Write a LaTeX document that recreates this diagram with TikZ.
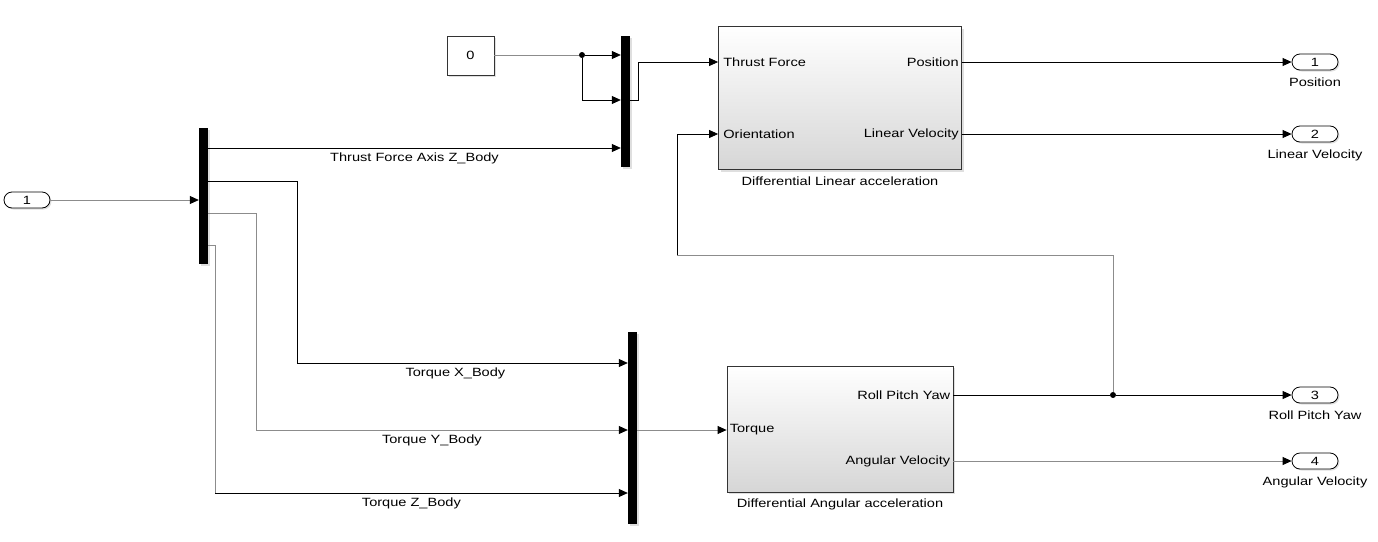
\documentclass[tikz,border=0pt]{standalone}
\usepackage{fontspec}
\setmainfont{Liberation Sans}[FakeStretch=1.22]
\usepackage{tikz}
\usetikzlibrary{arrows.meta,shapes,shadows}

\tikzset{
  sig/.style={line width=0.8bp,draw=black},
  gsig/.style={line width=0.8bp,draw=black!45},
  bar/.style={draw=none,fill=black,minimum width=9bp,inner sep=0pt,
    drop shadow={shadow xshift=1.5bp,shadow yshift=-1.5bp,opacity=0.25}},
  subsys/.style={draw=black!80,line width=0.8bp,top color=white,middle color=black!3,
    bottom color=black!16,inner sep=0pt,
    drop shadow={shadow xshift=2bp,shadow yshift=-2bp,opacity=0.25}},
  constbox/.style={draw=black!80,line width=0.8bp,fill=white,minimum width=47bp,
    minimum height=39bp,drop shadow={shadow xshift=2bp,shadow yshift=-2bp,opacity=0.25}},
  port/.style={draw=black,line width=0.8bp,fill=white,rounded corners=8bp,
    minimum width=46bp,minimum height=16bp,inner sep=0pt,
    drop shadow={shadow xshift=1.5bp,shadow yshift=-1.5bp,opacity=0.25}},
  plabel/.style={inner sep=3bp},
  dot/.style={circle,fill=black,inner sep=0pt,minimum size=6bp},
  >={Triangle[length=9bp,width=8bp,color=black,fill=black]},
  every node/.style={font=\fontsize{12}{14}\selectfont}
}

\begin{document}
\begin{tikzpicture}
\useasboundingbox (0bp,0bp) rectangle (1378bp,-542bp);

% blocks
\node (in1) at (27bp,-200bp)[port] {1};
\node (demux) at (203.5bp,-196bp)[bar,minimum height=136bp] {};
\node (c0) at (470.5bp,-55.5bp)[constbox] {0};
\node (mux1) at (625.5bp,-101.5bp)[bar,minimum height=131bp] {};
\node (mux2) at (632.5bp,-428bp)[bar,minimum height=192bp] {};
\node (lin) at (840bp,-98bp)[subsys,minimum width=243bp,minimum height=143bp] {};
\node (ang) at (840bp,-429bp)[subsys,minimum width=226bp,minimum height=126bp] {};
\node (out1) at (1315bp,-62bp)[port] {1};
\node (out2) at (1315bp,-134bp)[port] {2};
\node (out3) at (1315bp,-395bp)[port] {3};
\node (out4) at (1315bp,-461bp)[port] {4};

% block captions
\node [below=3bp] at (lin.south) {Differential Linear acceleration};
\node [below=3bp] at (ang.south) {Differential Angular acceleration};
\node [below=4bp] at (out1.south) {Position};
\node [below=4bp] at (out2.south) {Linear Velocity};
\node [below=4bp] at (out3.south) {Roll Pitch Yaw};
\node [below=4bp] at (out4.south) {Angular Velocity};

% ports
\coordinate (linTF) at (lin.west |- out1);
\coordinate (linOr) at (lin.west |- out2);
\coordinate (angTq) at (ang.west |- 0,-430bp);
\node (lTF) at (linTF)[anchor=west,plabel,xshift=2bp] {Thrust Force};
\node (lOr) at (linOr)[anchor=west,plabel,xshift=2bp] {Orientation};
\node (lPos) at (lin.east |- out1)[anchor=east,plabel] {Position};
\node (lLV) at (lin.east |- out2)[anchor=east,plabel] {Linear Velocity};
\node (aTq) at (angTq)[anchor=west,plabel] {Torque};
\node (aRPY) at (ang.east |- out3)[anchor=east,plabel] {Roll Pitch Yaw};
\node (aAV) at (ang.east |- out4)[anchor=east,plabel] {Angular Velocity};

\coordinate (d1) at (demux.east |- 0,-148bp);
\coordinate (d2) at (demux.east |- 0,-181bp);
\coordinate (d3) at (demux.east |- 0,-213bp);
\coordinate (d4) at (demux.east |- 0,-245bp);
\coordinate (kx) at (297bp,-363bp);
\coordinate (ky) at (256bp,-430bp);
\coordinate (kz) at (215bp,-493bp);
\coordinate (m2) at (mux1.west |- 0,-100bp);
\coordinate (jog) at (677bp,-255bp);
\node (br1) at (582bp,-55bp)[dot] {};
\node (br2) at (1113bp,-395bp)[dot] {};

% signals
\draw [gsig,->] (in1.east) -- (in1.east -| demux.west);
\draw [sig,->] (d1) -- node[midway,below=1bp] {Thrust Force Axis Z\_Body} (d1 -| mux1.west);
\draw [sig,->] (d2) -| (kx) -- node[midway,below=1bp,xshift=-7bp] {Torque X\_Body} (kx -| mux2.west);
\draw [gsig,->] (d3) -| (ky) -- node[midway,below=1bp,xshift=-10bp] {Torque Y\_Body} (ky -| mux2.west);
\draw [gsig] (d4) -| (kz);
\draw [sig,->] (kz) -- node[midway,below=1bp,xshift=-10bp] {Torque Z\_Body} (kz -| mux2.west);
\draw [gsig] (c0.east |- br1) -- (br1);
\draw [sig,->] (br1) -- (br1 -| mux1.west);
\draw [sig,->] (br1) |- (m2);
\draw [sig,->] (mux1.east |- m2) -- ++(8bp,0bp) |- (linTF);
\draw [gsig,->] (mux2.east |- angTq) -- (angTq);
\draw [sig,->] (lin.east |- out1) -- (out1.west);
\draw [sig,->] (lin.east |- out2) -- (out2.west);
\draw [sig] (ang.east |- out3) -- (br2);
\draw [sig,->] (br2) -- (out3.west);
\draw [gsig] (br2) |- (jog);
\draw [sig,->] (jog) |- (linOr);
\draw [gsig,->] (ang.east |- out4) -- (out4.west);
\end{tikzpicture}
\end{document}
